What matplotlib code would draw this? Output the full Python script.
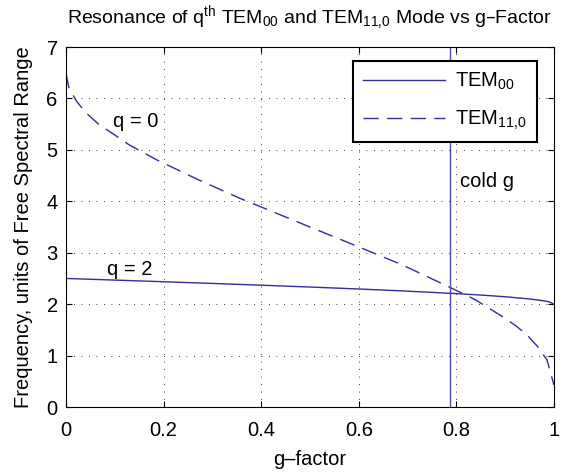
import numpy as np
import matplotlib.pyplot as plt

plt.rcParams['font.family'] = ['Liberation Sans', 'DejaVu Sans']
plt.rcParams['mathtext.default'] = 'regular'

# TEM00 mode, q = 2
g_00 = [0.0, 0.1, 0.2, 0.3, 0.4, 0.5, 0.6, 0.7, 0.8, 0.85, 0.9, 0.95, 0.98, 0.99, 1.0]
f_00 = [2.50, 2.468, 2.436, 2.403, 2.369, 2.333, 2.295, 2.253, 2.205, 2.177, 2.144,
        2.101, 2.064, 2.045, 2.0]

# TEM11,0 mode, q = 0
g_110 = [0.0, 0.006, 0.022, 0.042, 0.068, 0.1, 0.129, 0.185, 0.271, 0.356, 0.387,
         0.5, 0.601, 0.69, 0.784, 0.8125, 0.84, 0.867, 0.894, 0.922, 0.945, 0.968,
         0.986, 0.995, 1.0]
f_110 = [6.49, 6.2, 5.94, 5.71, 5.49, 5.29, 5.10, 4.81, 4.42, 4.06, 3.94,
         3.50, 3.11, 2.76, 2.34, 2.21, 2.08, 1.92, 1.76, 1.58, 1.40, 1.16,
         0.91, 0.60, 0.43]

cold_g = 0.787
col = '#2e2e9c'
fs = 14.5

fig = plt.figure(figsize=(5.77, 4.73), dpi=100)
ax = fig.add_axes([0.1144, 0.1395, 0.8456, 0.7611])

ax.plot(g_00, f_00, color=col, lw=1.0, label='TEM$_{00}$')
ax.plot(g_110, f_110, color=col, lw=1.0, dashes=(11, 6), label='TEM$_{11{,}0}$')
ax.axvline(cold_g, color='#4a4ab0', lw=1.0)

ax.text(0.096, 5.55, 'q = 0', fontsize=fs, va='center')
ax.text(0.083, 2.68, 'q = 2', fontsize=fs, va='center')
ax.text(0.807, 4.38, 'cold g', fontsize=fs, va='center')

ax.set_xlim(0, 1)
ax.set_ylim(0, 7)
ax.set_xticks(np.arange(0, 1.01, 0.2))
ax.set_xticklabels(['0', '0.2', '0.4', '0.6', '0.8', '1'])
ax.set_yticks(range(8))
ax.tick_params(direction='in', top=True, right=True, labelsize=fs, length=4)
ax.tick_params(axis='x', pad=10)
ax.tick_params(axis='y', pad=6)
ax.grid(True, color='black', linestyle=(0, (1, 8)), lw=0.6)
for s in ax.spines.values():
    s.set_linewidth(0.8)

ax.set_xlabel('g\u2013factor', fontsize=fs, labelpad=7)
ax.set_ylabel('Frequency, units of Free Spectral Range', fontsize=fs, labelpad=10)
ax.set_title('Resonance of q$^{th}$ TEM$_{00}$ and TEM$_{11{,}0}$ Mode vs g\u2013Factor',
             fontsize=14, pad=17)

leg = ax.legend(loc='upper right', bbox_to_anchor=(0.965, 0.962), borderaxespad=0,
                fontsize=fs, handlelength=4.1, fancybox=False, framealpha=1,
                edgecolor='black', borderpad=0.5, labelspacing=0.85, handletextpad=0.5)
leg.get_frame().set_linewidth(1.5)

fig.savefig('out.png', dpi=100)
